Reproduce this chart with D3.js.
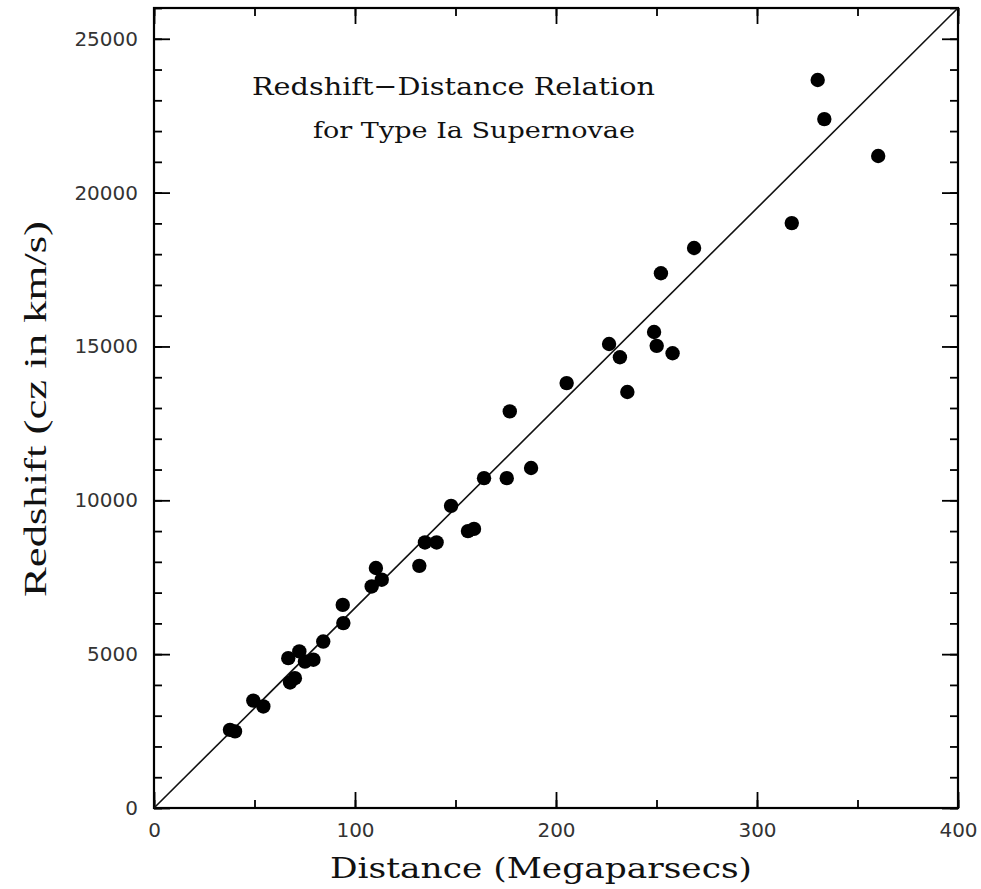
<!DOCTYPE html>
<html>
<head>
<script src="https://d3js.org/d3.v7.min.js"></script>
<style>
  html, body { margin: 0; padding: 0; background: #fff; overflow: hidden; }
  svg { display: block; }
  .tick text { font-family: "DejaVu Sans", sans-serif; font-size: 20px; fill: #333; }
  .tick line { stroke: #000; stroke-width: 1.8px; }
</style>
</head>
<body>
<div id="chart"></div>
<script>
// distance in Mpc, redshift cz in km/s
const distance = [37.8, 40.3, 49.4, 54.4, 67.7, 70.1, 66.8, 72.3, 75.1, 79.3,
  84.2, 93.9, 94.2, 108.3, 110.4, 113.3, 132.0, 134.8, 140.6, 147.8,
  156.2, 159.2, 164.2, 175.5, 177.0, 187.6, 205.3, 226.4, 231.8, 235.5,
  248.8, 250.1, 258.0, 252.2, 268.7, 317.3, 330.2, 333.5, 360.3];
const velocity = [2540, 2490, 3490, 3300, 4080, 4220, 4870, 5090, 4760, 4820,
  5410, 6600, 6010, 7200, 7800, 7420, 7870, 8630, 8630, 9820,
  9000, 9070, 10720, 10720, 12890, 11050, 13810, 15080, 14650, 13520,
  15470, 15020, 14780, 17380, 18200, 19010, 23660, 22390, 21190];
const fitLine = [[0, 0], [400, 26000]];
const xTicks = [0, 100, 200, 300, 400];
const yTicks = [0, 5000, 10000, 15000, 20000, 25000];

const width = 981, height = 889;
const margin = { top: 8, right: 23, bottom: 81, left: 154 };
const innerWidth = width - margin.left - margin.right;
const innerHeight = height - margin.top - margin.bottom;

const svg = d3.select('#chart').append('svg')
  .attr('width', width)
  .attr('height', height);

const g = svg.append('g')
  .attr('transform', `translate(${margin.left},${margin.top})`);

const x = d3.scaleLinear().domain([0, 400]).range([0, innerWidth]);
const y = d3.scaleLinear().domain([0, 26000]).range([innerHeight, 0]);

const xMinor = d3.range(0, 401, 50);
const yMinor = d3.range(0, 26001, 1000);

// ticks only, no labels
const tickOnly = (axis, shift) => {
  const a = g.append('g').attr('transform', shift || null).call(axis);
  a.selectAll('text').remove();
  return a;
};

// minor ticks, all four sides
tickOnly(d3.axisBottom(x).tickValues(xMinor).tickSize(-8), `translate(0,${innerHeight})`);
tickOnly(d3.axisTop(x).tickValues(xMinor).tickSize(-8));
tickOnly(d3.axisLeft(y).tickValues(yMinor).tickSize(-8));
tickOnly(d3.axisRight(y).tickValues(yMinor).tickSize(-8), `translate(${innerWidth},0)`);

// major ticks
g.append('g').attr('transform', `translate(0,${innerHeight})`)
  .call(d3.axisBottom(x).tickValues(xTicks).tickSize(-16).tickPadding(15).tickFormat(d3.format('d')));
tickOnly(d3.axisTop(x).tickValues(xTicks).tickSize(-16));
g.append('g')
  .call(d3.axisLeft(y).tickValues(yTicks).tickSize(-16).tickPadding(16).tickFormat(d3.format('d')));
tickOnly(d3.axisRight(y).tickValues(yTicks).tickSize(-16), `translate(${innerWidth},0)`);

g.selectAll('.domain').remove();

g.append('rect')
  .attr('width', innerWidth)
  .attr('height', innerHeight)
  .attr('fill', 'none')
  .attr('stroke', '#000')
  .attr('stroke-width', 2.2);

// Hubble line
g.append('path')
  .datum(fitLine)
  .attr('fill', 'none')
  .attr('stroke', '#111')
  .attr('stroke-width', 1.6)
  .attr('d', d3.line().x(d => x(d[0])).y(d => y(d[1])));

g.selectAll('circle').data(distance)
  .enter().append('circle')
  .attr('cx', d => x(d))
  .attr('cy', (d, i) => y(velocity[i]))
  .attr('r', 7.2)
  .attr('fill', '#000');

// titles
svg.append('text')
  .attr('x', 252).attr('y', 95)
  .attr('font-family', '"DejaVu Serif", serif')
  .attr('font-size', 25)
  .attr('textLength', 403)
  .attr('lengthAdjust', 'spacingAndGlyphs')
  .attr('fill', '#111')
  .text('Redshift\u2212Distance Relation');

svg.append('text')
  .attr('x', 313).attr('y', 138)
  .attr('font-family', '"DejaVu Serif", serif')
  .attr('font-size', 23)
  .attr('textLength', 322)
  .attr('lengthAdjust', 'spacingAndGlyphs')
  .attr('fill', '#111')
  .text('for Type Ia Supernovae');

svg.append('text')
  .attr('x', 330).attr('y', 878)
  .attr('font-family', '"DejaVu Serif", serif')
  .attr('font-size', 28)
  .attr('textLength', 422)
  .attr('lengthAdjust', 'spacingAndGlyphs')
  .attr('fill', '#111')
  .text('Distance (Megaparsecs)');

svg.append('text')
  .attr('transform', 'translate(46,597) rotate(-90)')
  .attr('font-family', '"Liberation Serif", serif')
  .attr('font-size', 31)
  .attr('textLength', 376)
  .attr('lengthAdjust', 'spacingAndGlyphs')
  .attr('fill', '#111')
  .text('Redshift (cz in km/s)');
</script>
</body>
</html>
